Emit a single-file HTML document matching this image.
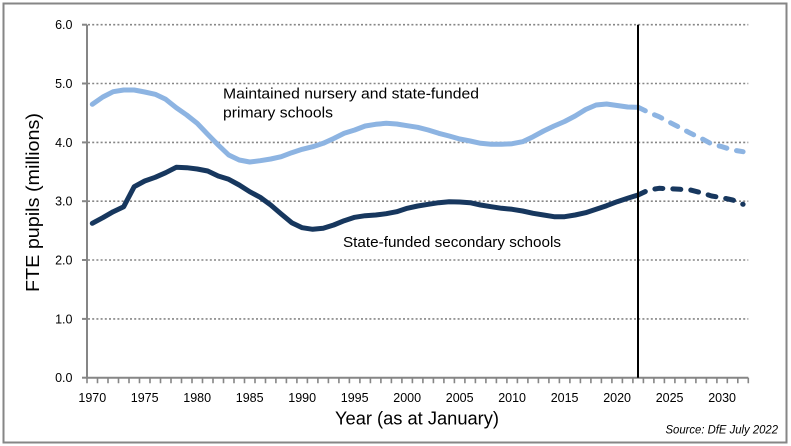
<!DOCTYPE html>
<html><head><meta charset="utf-8"><style>
html,body{margin:0;padding:0;background:#fff;}
svg{display:block;}
text{font-family:"Liberation Sans",Arial,sans-serif;fill:#000;}
</style></head><body>
<svg width="791" height="446" viewBox="0 0 791 446" xmlns="http://www.w3.org/2000/svg">
<rect x="0" y="0" width="791" height="446" fill="#fff"/>
<rect x="3.5" y="3.5" width="783" height="439" fill="none" stroke="#868686" stroke-width="2"/>
<g stroke="#868686" stroke-width="1.6" stroke-dasharray="2 2.2">
<line x1="88" y1="24.7" x2="748.3" y2="24.7"/>
<line x1="88" y1="83.5" x2="748.3" y2="83.5"/>
<line x1="88" y1="142.4" x2="748.3" y2="142.4"/>
<line x1="88" y1="201.2" x2="748.3" y2="201.2"/>
<line x1="88" y1="260" x2="748.3" y2="260"/>
<line x1="88" y1="318.9" x2="748.3" y2="318.9"/>
</g>
<g stroke="#868686" stroke-width="2">
<line x1="87" y1="24.7" x2="87" y2="378.7"/>
<line x1="86" y1="377.7" x2="748.3" y2="377.7"/>
<line x1="82" y1="24.7" x2="87" y2="24.7"/>
<line x1="82" y1="83.5" x2="87" y2="83.5"/>
<line x1="82" y1="142.4" x2="87" y2="142.4"/>
<line x1="82" y1="201.2" x2="87" y2="201.2"/>
<line x1="82" y1="260" x2="87" y2="260"/>
<line x1="82" y1="318.9" x2="87" y2="318.9"/>
<line x1="82" y1="377.7" x2="87" y2="377.7"/>
</g>
<path stroke="#868686" stroke-width="1.6" fill="none" d="M87.0 377.7v5.5M97.5 377.7v5.5M108.0 377.7v5.5M118.5 377.7v5.5M129.0 377.7v5.5M139.5 377.7v5.5M150.0 377.7v5.5M160.5 377.7v5.5M171.0 377.7v5.5M181.5 377.7v5.5M192.0 377.7v5.5M202.5 377.7v5.5M213.0 377.7v5.5M223.5 377.7v5.5M234.0 377.7v5.5M244.5 377.7v5.5M255.0 377.7v5.5M265.5 377.7v5.5M275.9 377.7v5.5M286.4 377.7v5.5M296.9 377.7v5.5M307.4 377.7v5.5M317.9 377.7v5.5M328.4 377.7v5.5M338.9 377.7v5.5M349.4 377.7v5.5M359.9 377.7v5.5M370.4 377.7v5.5M380.9 377.7v5.5M391.4 377.7v5.5M401.9 377.7v5.5M412.4 377.7v5.5M422.9 377.7v5.5M433.4 377.7v5.5M443.9 377.7v5.5M454.4 377.7v5.5M464.9 377.7v5.5M475.4 377.7v5.5M485.9 377.7v5.5M496.4 377.7v5.5M506.9 377.7v5.5M517.4 377.7v5.5M527.9 377.7v5.5M538.4 377.7v5.5M548.9 377.7v5.5M559.4 377.7v5.5M569.9 377.7v5.5M580.4 377.7v5.5M590.9 377.7v5.5M601.4 377.7v5.5M611.9 377.7v5.5M622.4 377.7v5.5M632.9 377.7v5.5M643.4 377.7v5.5M653.9 377.7v5.5M664.4 377.7v5.5M674.9 377.7v5.5M685.4 377.7v5.5M695.9 377.7v5.5M706.4 377.7v5.5M716.9 377.7v5.5M727.3 377.7v5.5M737.8 377.7v5.5M748.3 377.7v5.5"/>

<g font-size="12.5" text-anchor="end">
<text x="72.5" y="29.2">6.0</text>
<text x="72.5" y="88">5.0</text>
<text x="72.5" y="146.9">4.0</text>
<text x="72.5" y="205.7">3.0</text>
<text x="72.5" y="264.5">2.0</text>
<text x="72.5" y="323.4">1.0</text>
<text x="72.5" y="382.2">0.0</text>
</g>
<g font-size="12.5" text-anchor="middle">
<text x="92.3" y="402">1970</text>
<text x="144.7" y="402">1975</text>
<text x="197.2" y="402">1980</text>
<text x="249.7" y="402">1985</text>
<text x="302.2" y="402">1990</text>
<text x="354.7" y="402">1995</text>
<text x="407.2" y="402">2000</text>
<text x="459.7" y="402">2005</text>
<text x="512.1" y="402">2010</text>
<text x="564.6" y="402">2015</text>
<text x="617.1" y="402">2020</text>
<text x="669.6" y="402">2025</text>
<text x="722.1" y="402">2030</text>
</g>
<text x="335" y="424.5" font-size="18" textLength="164" lengthAdjust="spacingAndGlyphs">Year (as at January)</text>
<text transform="translate(39,292) rotate(-90)" x="0" y="0" font-size="18" textLength="179" lengthAdjust="spacingAndGlyphs">FTE pupils (millions)</text>
<text x="223" y="98.3" font-size="15" textLength="256" lengthAdjust="spacingAndGlyphs">Maintained nursery and state-funded</text>
<text x="223" y="117.3" font-size="15" textLength="110" lengthAdjust="spacingAndGlyphs">primary schools</text>
<text x="343" y="247" font-size="15" textLength="218" lengthAdjust="spacingAndGlyphs">State-funded secondary schools</text>
<text x="665.5" y="433.3" font-size="12" font-style="italic" textLength="112.5" lengthAdjust="spacingAndGlyphs">Source: DfE July 2022</text>

<g fill="none" stroke-width="5" stroke-linejoin="round">
<polyline stroke="#8DB4E2" stroke-linecap="round" points="92.3,104.3 102.8,97 113.2,91.7 123.7,90 134.2,90 144.7,92 155.2,94.3 165.7,99.3 176.2,107.7 186.7,115 197.2,123.3 207.7,134.3 218.2,145 228.7,155 239.2,160 249.7,162 260.2,160.7 270.7,159 281.2,156.7 291.7,152.7 302.2,149.3 312.7,146.7 323.2,143.3 333.7,138.5 344.2,133.3 354.7,130 365.2,126 375.7,124.3 386.2,123.3 396.7,124 407.2,125.7 417.7,127.3 428.2,130 438.7,133.3 449.2,136 459.7,139 470.1,141 480.6,143.3 491.1,144.3 501.6,144.3 512.1,143.7 522.6,141.7 533.1,136.7 543.6,131 554.1,126 564.6,121.5 575.1,116 585.6,109.5 596.1,105 606.6,104 617.1,105.5 627.6,107 638.1,107.3"/>
<polyline stroke="#8DB4E2" stroke-linecap="round" stroke-dasharray="8 10" points="638.1,107.3 648.6,112.3 659.1,116.7 669.6,122.3 680.1,127.7 690.6,133.3 701.1,138.3 711.6,144 722.1,146.7 732.6,150 743.1,151.7"/>
<polyline stroke="#17375E" stroke-linecap="round" points="92.3,223.3 102.8,217.7 113.2,211.7 123.7,206.7 134.2,186.7 144.7,181 155.2,177.3 165.7,172.7 176.2,167.3 186.7,167.7 197.2,169 207.7,171 218.2,176 228.7,179.3 239.2,185 249.7,191.7 260.2,197.3 270.7,205 281.2,214 291.7,222.7 302.2,227.7 312.7,229.3 323.2,228.3 333.7,225 344.2,220.7 354.7,217.3 365.2,215.7 375.7,215 386.2,213.7 396.7,211.7 407.2,208.3 417.7,206 428.2,204.3 438.7,202.7 449.2,201.7 459.7,202 470.1,202.7 480.6,205 491.1,206.7 501.6,208.3 512.1,209.3 522.6,211 533.1,213.3 543.6,215 554.1,216.7 564.6,216.7 575.1,215 585.6,212.7 596.1,209.3 606.6,205.7 617.1,201.7 627.6,198.3 638.1,195"/>
<polyline stroke="#17375E" stroke-linecap="round" stroke-dasharray="8 10" points="638.1,195 648.6,190 659.1,188.3 669.6,188.7 680.1,189.3 690.6,190 701.1,192.7 711.6,196 722.1,197.7 732.6,200 743.1,204.3"/>
</g>
<line x1="638" y1="24.7" x2="638" y2="377.7" stroke="#000" stroke-width="2"/>
</svg>
</body></html>
